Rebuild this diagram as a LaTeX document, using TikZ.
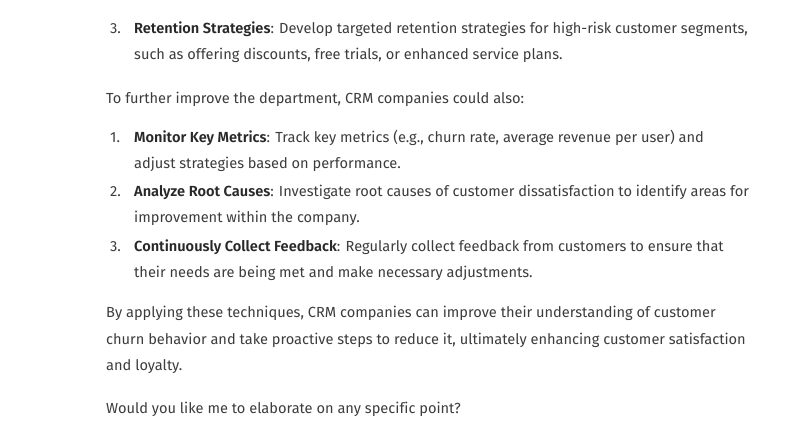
\documentclass[tikz,border=0pt]{standalone}
\usepackage{fontspec}
\setmainfont{Fira Sans}[Ligatures = NoCommon, BoldFont = {Fira Sans SemiBold}]
\usepackage{tikz}
\usetikzlibrary{positioning}
\definecolor{textGray}{RGB}{60,60,60}
\definecolor{boldGray}{RGB}{40,40,40}
\tikzstyle{page} = [x = 1pt, y = -1pt]
\tikzstyle{lineText} = [anchor = base west, inner sep = 0pt, text = textGray, font = \fontsize{14.6}{26}\selectfont]
\newcommand{\keyTerm}[1]{{\bfseries\color{boldGray}#1}}
\newcommand{\itemNumber}[3]{\node [lineText] (#1) at (110, #2) {#3.};}
\newcommand{\itemLine}[3]{\node [lineText] (#1) at (134, #2) {#3};}
\newcommand{\paraLine}[3]{\node [lineText] (#1) at (106, #2) {#3};}

\begin{document}
\begin{tikzpicture}[page]
  \useasboundingbox [fill = white] (0, 0) rectangle (809, 429);
  % last point of the first list
  \itemNumber{numRetention}{33}{3}
  \itemLine{retentionA}{33}{\keyTerm{Retention Strategies}: Develop targeted retention strategies for high-risk customer segments,}
  \itemLine{retentionB}{59}{such as offering discounts, free trials, or enhanced service plans.}
  \paraLine{intro}{103}{To further improve the department, CRM companies could also:}
  % second list
  \itemNumber{numMetrics}{142}{1}
  \itemLine{metricsA}{142}{\keyTerm{Monitor Key Metrics}: Track key metrics (e.g., churn rate, average revenue per user) and}
  \itemLine{metricsB}{168}{adjust strategies based on performance.}
  \itemNumber{numCauses}{196}{2}
  \itemLine{causesA}{196}{\keyTerm{Analyze Root Causes}: Investigate root causes of customer dissatisfaction to identify areas for}
  \itemLine{causesB}{222}{improvement within the company.}
  \itemNumber{numFeedback}{251}{3}
  \itemLine{feedbackA}{251}{\keyTerm{Continuously Collect Feedback}: Regularly collect feedback from customers to ensure that}
  \itemLine{feedbackB}{277}{their needs are being met and make necessary adjustments.}
  % closing lines
  \paraLine{closingA}{317}{By applying these techniques, CRM companies can improve their understanding of customer}
  \paraLine{closingB}{344}{churn behavior and take proactive steps to reduce it, ultimately enhancing customer satisfaction}
  \paraLine{closingC}{370}{and loyalty.}
  \paraLine{question}{413}{Would you like me to elaborate on any specific point?}
\end{tikzpicture}
\end{document}
